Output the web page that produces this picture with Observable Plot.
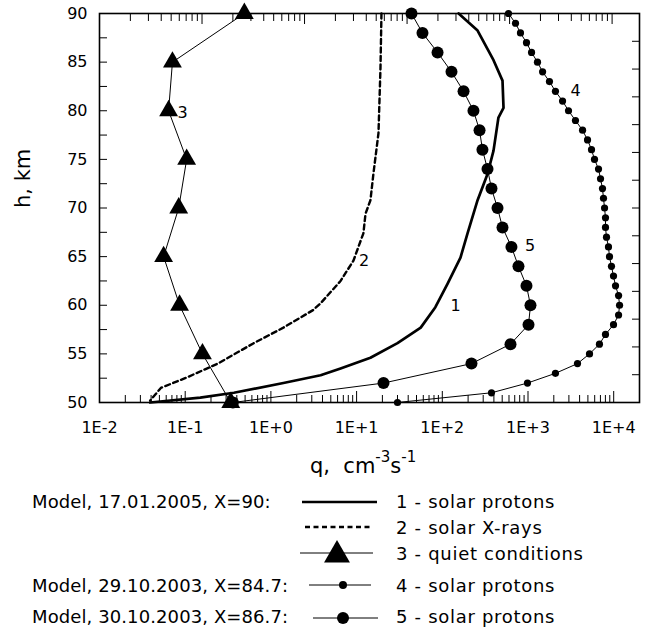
<!DOCTYPE html>
<html>
<head>
<meta charset="utf-8">
<script src="https://cdn.jsdelivr.net/npm/d3@7"></script>
<script src="https://cdn.jsdelivr.net/npm/@observablehq/plot@0.6"></script>
<style>
  html, body { margin: 0; padding: 0; background: #fff; }
  #wrap { position: relative; width: 654px; height: 632px; overflow: hidden; font-family: "DejaVu Sans", sans-serif; }
  #wrap > svg { position: absolute; left: 0; top: 0; }
</style>
</head>
<body>
<div id="wrap"></div>
<script>
// ---------------- data ----------------
// 1 - solar protons, model 17.01.2005, X=90 (solid)
const hSolar2005 = [90, 88.25, 85.2, 83.1, 80.3, 79.3, 75.9, 73.5, 70.8, 67.4, 64.9, 62.2, 59.8, 57.7, 56.1, 54.6, 53.5, 52.8, 52.0, 51.0, 50.5, 50.0];
const qSolar2005 = [155, 258, 396, 504, 518, 452, 396, 337, 258, 197, 163, 115, 83, 56, 30, 14.5, 6.5, 3.8, 1.4, 0.37, 0.15, 0.039];

// 2 - solar X-rays, model 17.01.2005 (dashed)
const hXray = [90, 84.45, 77.7, 73.5, 70.8, 69.4, 67.4, 64.6, 62.5, 60.2, 59.5, 57.7, 56.1, 54.0, 52.6, 51.5, 50.2];
const qXray = [19.5, 19.0, 18.0, 15.7, 14.5, 12.7, 12.0, 9.2, 6.5, 3.8, 3.1, 1.4, 0.63, 0.24, 0.106, 0.052, 0.039];

// 3 - quiet conditions (triangles)
const hQuiet = [90, 85, 80, 75, 70, 65, 60, 55, 50];
const qQuiet = [0.49, 0.071, 0.064, 0.104, 0.084, 0.056, 0.086, 0.159, 0.34];

// 4 - solar protons, model 29.10.2003, X=84.7 (small dots)
const hP2910 = [90, 89, 88, 87, 86, 85, 84, 83, 82, 81, 80, 79, 78, 77, 76, 75, 74, 73, 72, 71, 70,
                69, 68, 67, 66, 65, 64, 63, 62, 61, 60, 59, 58, 57, 56, 55, 54, 53, 52, 51, 50];
const qP2910 = [592, 715, 817, 960, 1100, 1290, 1480, 1780, 2090, 2530, 2970, 3580, 4330, 4950, 5510, 5970, 6650, 7020, 7400, 7600, 7820,
                8020, 8020, 8240, 8690, 8930, 9420, 9950, 10500, 11400, 11700, 11400, 9950, 8020, 6820, 5220, 3780, 2090, 986, 375, 30];

// 5 - solar protons, model 30.10.2003, X=86.7 (big dots)
const hP3010 = [90, 88, 86, 84, 82, 80, 78, 76, 74, 72, 70, 68, 66, 64, 62, 60, 58, 56, 54, 52, 50];
const qP3010 = [43.7, 58.7, 88, 128, 177, 231, 272, 294, 337, 375, 441, 504, 641, 774, 960, 1069, 1014, 625, 219, 20.6, 0.36];

// curve number labels
const curveLabels = ["1", "2", "3", "4", "5"];
const labelQ = [143, 12.2, 0.093, 3580, 1055];
const labelH = [59.9, 64.6, 79.8, 82.0, 66.1];

// axes
const xMajor = [1e-2, 1e-1, 1e0, 1e1, 1e2, 1e3, 1e4];
const xMinorFactors = [2, 3, 4, 5, 6, 7, 8, 9];
const yMajor = [50, 55, 60, 65, 70, 75, 80, 85, 90];
const yStep = 2.5;
// secondary (overlaid) axes on top / right of the original figure
const topMajor = [1e-2, 1e-1, 1e0, 1e1, 1e2, 1e3];
const topDomainMax = 1850;
const rightDomain = [50, 85];

// legend texts
const legendLeft = ["Model, 17.01.2005, X=90:", "", "", "Model, 29.10.2003, X=84.7:", "Model, 30.10.2003, X=86.7:"];
const legendRight = ["1 - solar protons", "2 - solar X-rays", "3 - quiet conditions", "4 - solar protons", "5 - solar protons"];

// ---------------- build ----------------
const zipCurve = (hs, qs) => hs.map((h, i) => ({h, q: qs[i]}));
const solar2005 = zipCurve(hSolar2005, qSolar2005);
const xray = zipCurve(hXray, qXray);
const quiet = zipCurve(hQuiet, qQuiet);
const p2910 = zipCurve(hP2910, qP2910);
const p3010 = zipCurve(hP3010, qP3010);
const labels = curveLabels.map((t, i) => ({t, q: labelQ[i], h: labelH[i]}));

const W = 654, H = 445, mL = 99, mR = 15, mT = 13, mB = 43;
const innerW = W - mL - mR, innerH = H - mT - mB;
const xMinor = xMajor.flatMap(d => xMinorFactors.map(k => d * k)).filter(v => v < 2e4);
const yTicks = d3.range(50, 90 + 0.01, yStep);
const topMinor = topMajor.flatMap(d => xMinorFactors.map(k => d * k)).filter(v => v < topDomainMax);
const rightTicks = d3.range(rightDomain[0], rightDomain[1] + 0.01, yStep);
const fmt = d => { const e = Math.round(Math.log10(d)); return "1E" + (e >= 0 ? "+" : "") + e; };

const chartA = Plot.plot({
  width: W, height: H,
  marginLeft: mL, marginRight: mR, marginTop: mT, marginBottom: mB,
  style: {fontFamily: "DejaVu Sans, sans-serif", fontSize: "16px", color: "black", background: "white", overflow: "visible"},
  x: {type: "log", domain: [1e-2, 2e4], ticks: xMajor, tickFormat: fmt, tickSize: 0, tickPadding: 19, label: null},
  y: {domain: [50, 90], ticks: yMajor, tickSize: 0, tickPadding: 12, label: null},
  marks: [
    Plot.ruleX(xMinor, {insetTop: innerH - 7, stroke: "black", strokeWidth: 1}),
    Plot.ruleX(xMajor, {insetTop: innerH - 11, stroke: "black", strokeWidth: 1}),
    Plot.ruleY(yTicks, {insetRight: innerW - 8, stroke: "black", strokeWidth: 1}),
    Plot.line(xray, {x: "q", y: "h", stroke: "black", strokeWidth: 2.4, strokeDasharray: "5,3.5"}),
    Plot.line(solar2005, {x: "q", y: "h", stroke: "black", strokeWidth: 2.7}),
    Plot.line(quiet, {x: "q", y: "h", stroke: "black", strokeWidth: 1}),
    Plot.dot(quiet, {x: "q", y: "h", symbol: "triangle", r: 7, fill: "black", stroke: null}),
    Plot.line(p2910, {x: "q", y: "h", stroke: "black", strokeWidth: 1}),
    Plot.dot(p2910, {x: "q", y: "h", r: 3.6, fill: "black", stroke: null}),
    Plot.line(p3010, {x: "q", y: "h", stroke: "black", strokeWidth: 1}),
    Plot.dot(p3010, {x: "q", y: "h", r: 6, fill: "black", stroke: null}),
    Plot.text(labels, {x: "q", y: "h", text: "t", fontSize: 16, fill: "black"}),
    Plot.text(["h, km"], {frameAnchor: "left", dx: -76, rotate: -90, fontSize: 21, fill: "black"}),
    Plot.frame({stroke: "black", strokeWidth: 1.6})
  ]
});

const chartB = Plot.plot({
  width: W, height: H,
  marginLeft: mL, marginRight: mR, marginTop: mT, marginBottom: mB,
  style: {background: "transparent", overflow: "visible"},
  x: {type: "log", domain: [1e-2, topDomainMax], axis: null},
  y: {domain: rightDomain, axis: null},
  marks: [
    Plot.ruleX(topMinor, {insetBottom: innerH - 8, stroke: "black", strokeWidth: 1}),
    Plot.ruleX(topMajor, {insetBottom: innerH - 11, stroke: "black", strokeWidth: 1}),
    Plot.ruleY(rightTicks, {insetLeft: innerW - 7, stroke: "black", strokeWidth: 1})
  ]
});

const wrap = document.getElementById("wrap");
wrap.appendChild(chartA);
wrap.appendChild(chartB);

// ---------------- x title + legend ----------------
const svg = d3.select(wrap).append("svg")
  .attr("width", 654).attr("height", 632)
  .style("font-family", "DejaVu Sans, sans-serif")
  .style("pointer-events", "none");

const xt = svg.append("text").attr("x", 310).attr("y", 473).attr("font-size", 21).attr("fill", "black");
xt.append("tspan").attr("xml:space", "preserve").text("q,\u00a0 cm");
xt.append("tspan").attr("font-size", 15).attr("dy", -11).text("-3");
xt.append("tspan").attr("dy", 11).text("s");
xt.append("tspan").attr("font-size", 15).attr("dy", -11).text("-1");

const rowY = [502, 527, 553, 585, 618];
const rowBase = [508, 534, 560, 592, 623];
legendLeft.forEach((t, i) => {
  if (t) svg.append("text").attr("x", 32).attr("y", rowBase[i]).attr("font-size", 18)
    .attr("letter-spacing", 0.1).attr("fill", "black").text(t);
});
legendRight.forEach((t, i) => {
  svg.append("text").attr("x", 396).attr("y", rowBase[i]).attr("font-size", 18)
    .attr("letter-spacing", 0.7).attr("fill", "black").text(t);
});
// samples
svg.append("line").attr("x1", 302).attr("x2", 377).attr("y1", rowY[0]).attr("y2", rowY[0])
  .attr("stroke", "black").attr("stroke-width", 2.7);
svg.append("line").attr("x1", 305).attr("x2", 372).attr("y1", rowY[1]).attr("y2", rowY[1])
  .attr("stroke", "black").attr("stroke-width", 2.4).attr("stroke-dasharray", "5,3.5");
svg.append("line").attr("x1", 300).attr("x2", 373).attr("y1", rowY[2]).attr("y2", rowY[2])
  .attr("stroke", "black").attr("stroke-width", 1);
svg.append("path").attr("d", d3.symbol(d3.symbolTriangle, 290)())
  .attr("transform", `translate(337,${rowY[2] + 2})`).attr("fill", "black");
svg.append("line").attr("x1", 309).attr("x2", 371).attr("y1", rowY[3]).attr("y2", rowY[3])
  .attr("stroke", "black").attr("stroke-width", 1);
svg.append("circle").attr("cx", 343).attr("cy", rowY[3]).attr("r", 4).attr("fill", "black");
svg.append("line").attr("x1", 313).attr("x2", 378).attr("y1", rowY[4]).attr("y2", rowY[4])
  .attr("stroke", "black").attr("stroke-width", 1);
svg.append("circle").attr("cx", 343).attr("cy", rowY[4]).attr("r", 6).attr("fill", "black");
</script>
</body>
</html>
